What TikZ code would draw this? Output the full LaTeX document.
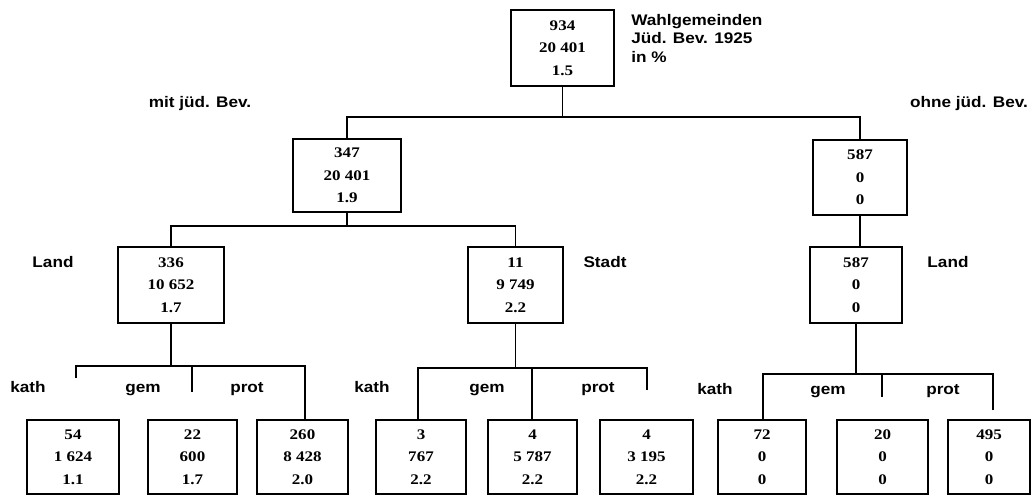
\documentclass[tikz,border=0pt]{standalone}
\usepackage{fontspec}
\newfontfamily\numf[FakeStretch=1.16]{Liberation Serif}
\newfontfamily\labf[FakeStretch=1.12]{Liberation Sans}
\begin{document}
\begin{tikzpicture}[x=0.75pt,y=-0.75pt,
  box/.style 2 args={draw, line width=0.8pt, inner sep=0pt, align=center,
    minimum width=#1*0.75pt, minimum height=#2*0.75pt,
    font=\numf\bfseries\fontsize{11}{16.9}\selectfont},
  conn/.style={line width=0.8pt},
  lab/.style={inner sep=0pt, anchor=base, font=\labf\bfseries\fontsize{11.5}{13.9}\selectfont}]
\useasboundingbox (0,0) rectangle (1032,496);
% boxes
\node[box={103}{76}] (root) at (562.5,48) {934\\20 401\\1.5};
\node[box={108}{73}] (b347) at (347,175.5) {347\\20 401\\1.9};
\node[box={94}{75}] (b587a) at (860,177.5) {587\\0\\0};
\node[box={106}{76}] (b336) at (171,285) {336\\10 652\\1.7};
\node[box={95}{76}] (b11) at (515.5,285) {11\\9 749\\2.2};
\node[box={92}{76}] (b587b) at (856,285) {587\\0\\0};
\node[box={92}{74}] (b54) at (73,457) {54\\1 624\\1.1};
\node[box={89}{74}] (b22) at (192.5,457) {22\\600\\1.7};
\node[box={91}{74}] (b260) at (302.5,457) {260\\8 428\\2.0};
\node[box={90}{74}] (b3) at (421,457) {3\\767\\2.2};
\node[box={89}{74}] (b4a) at (532.5,457) {4\\5 787\\2.2};
\node[box={93}{74}] (b4b) at (646.5,457) {4\\3 195\\2.2};
\node[box={88}{74}] (b72) at (762,457) {72\\0\\0};
\node[box={91}{74}] (b20) at (882.5,457) {20\\0\\0};
\node[box={82}{74}] (b495) at (989,457) {495\\0\\0};
% labels
\node[lab, anchor=base west] (leg1) at (631,25) {Wahlgemeinden};
\node[lab, anchor=base west] (leg2) at (631,43.5) {Jüd. Bev. 1925};
\node[lab, anchor=base west] (leg3) at (631,62) {in \%};
\node[lab] (mit) at (200,107) {mit jüd. Bev.};
\node[lab] (ohne) at (969,107) {ohne jüd. Bev.};
\node[lab] (landL) at (53,267) {Land};
\node[lab] (stadt) at (605,267) {Stadt};
\node[lab] (landR) at (948,267) {Land};
\node[lab] (k1) at (28,392) {kath};
\node[lab] (g1) at (143,392) {gem};
\node[lab] (p1) at (247,392) {prot};
\node[lab] (k2) at (372,392) {kath};
\node[lab] (g2) at (487,392) {gem};
\node[lab] (p2) at (598,392) {prot};
\node[lab] (k3) at (715,394) {kath};
\node[lab] (g3) at (828,394) {gem};
\node[lab] (p3) at (943,394) {prot};
% level 1
\coordinate (y1) at (0,117);
\draw[conn] (root.south) -- (root.south |- y1);
\draw[conn] (b347.north) -- (b347.north |- y1) -- (b587a.north |- y1) -- (b587a.north);
% level 2
\coordinate (y2) at (0,226);
\draw[conn] (b347.south) -- (b347.south |- y2);
\draw[conn] (b336.north) -- (b336.north |- y2) -- (b11.north |- y2) -- (b11.north);
\draw[conn] (b587a.south) -- (b587a.south |- b587b.north);
% level 3 left
\coordinate (tL1) at (76,366);
\coordinate (tL2) at (192,366);
\coordinate (tL3) at (305,366);
\coordinate (eL1) at (76,378);
\coordinate (eL2) at (192,392);
\draw[conn] (b336.south) -- (b336.south |- tL1);
\draw[conn] (eL1) -- (tL1) -- (tL3) -- (tL3 |- b260.north);
\draw[conn] (tL2) -- (eL2);
% level 3 middle
\coordinate (tM1) at (418,368);
\coordinate (tM2) at (532,368);
\coordinate (tM3) at (647,368);
\coordinate (eM3) at (647,390);
\draw[conn] (b11.south) -- (b11.south |- tM1);
\draw[conn] (tM1 |- b3.north) -- (tM1) -- (tM3) -- (eM3);
\draw[conn] (tM2) -- (tM2 |- b4a.north);
% level 3 right
\coordinate (tR1) at (763,374);
\coordinate (tR2) at (882,374);
\coordinate (tR3) at (993,374);
\coordinate (eR2) at (882,397);
\coordinate (eR3) at (993,410);
\draw[conn] (b587b.south) -- (b587b.south |- tR1);
\draw[conn] (tR1 |- b72.north) -- (tR1) -- (tR3) -- (eR3);
\draw[conn] (tR2) -- (eR2);
\end{tikzpicture}
\end{document}
